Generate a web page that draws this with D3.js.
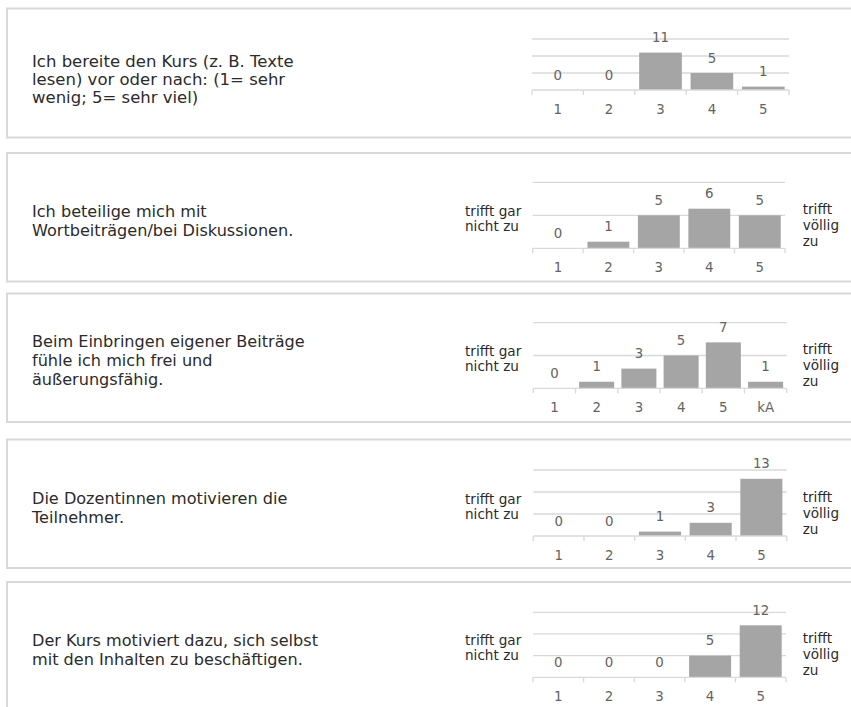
<!DOCTYPE html>
<html>
<head>
<meta charset="utf-8">
<script src="https://cdn.jsdelivr.net/npm/d3@7"></script>
<style>
  html, body { margin: 0; padding: 0; background: #ffffff; }
  svg { display: block; }
</style>
</head>
<body>
<svg id="chart" width="851" height="707"></svg>
<script>
// ---------- data ----------
const questionLines = [
  ["Ich bereite den Kurs (z. B. Texte", "lesen) vor oder nach: (1= sehr", "wenig; 5= sehr viel)"],
  ["Ich beteilige mich mit", "Wortbeiträgen/bei Diskussionen."],
  ["Beim Einbringen eigener Beiträge", "fühle ich mich frei und", "äußerungsfähig."],
  ["Die Dozentinnen motivieren die", "Teilnehmer."],
  ["Der Kurs motiviert dazu, sich selbst", "mit den Inhalten zu beschäftigen."]
];
const categoriesA = ["1", "2", "3", "4", "5"];
const categoriesB = ["1", "2", "3", "4", "5", "kA"];
const values1 = [0, 0, 11, 5, 1];
const values2 = [0, 1, 5, 6, 5];
const values3 = [0, 1, 3, 5, 7, 1];
const values4 = [0, 0, 1, 3, 13];
const values5 = [0, 0, 0, 5, 12];
const axisMax = [15, 10, 10, 15, 15];
const gridStep = 5;
const leftAnchor = ["trifft gar", "nicht zu"];
const rightAnchor = ["trifft", "völlig", "zu"];
const showAnchors = [false, true, true, true, true];

const seriesList = [values1, values2, values3, values4, values5];
const categoryList = [categoriesA, categoriesA, categoriesB, categoriesA, categoriesA];

// ---------- layout ----------
const layout = [
  { top: 8.5,  bottom: 137.5, base: 90,    plotTop: 39,    x0: 532,   x1: 789,   textBase: 66.7,  lh: 18.3, fs: 16.5 },
  { top: 153,  bottom: 281.5, base: 248.3, plotTop: 182.3, x0: 532.7, x1: 785,   textBase: 216.7, lh: 19.2, fs: 16.1 },
  { top: 293.5,bottom: 422,   base: 388.3, plotTop: 322.7, x0: 533.3, x1: 786.7, textBase: 347.3, lh: 19,   fs: 16.1 },
  { top: 439.5,bottom: 568,   base: 536,   plotTop: 470,   x0: 533.3, x1: 786.7, textBase: 504,   lh: 18.7, fs: 16.1 },
  { top: 582,  bottom: 760,   base: 677.3, plotTop: 612.3, x0: 533,   x1: 786,   textBase: 646,   lh: 19,   fs: 16.1 }
];

const FONT = "'DejaVu Sans', Verdana, sans-serif";
const gridColor = "#d9d9d9";
const barColor = "#a5a5a5";
const labelColor = "#636363";
const textColor = "#2b2b2b";

const svg = d3.select("#chart");

layout.forEach((L, i) => {
  const g = svg.append("g");
  const cats = categoryList[i];
  const vals = seriesList[i];

  // panel frame
  g.append("rect")
    .attr("x", 7).attr("y", L.top)
    .attr("width", 900).attr("height", L.bottom - L.top)
    .attr("fill", "none").attr("stroke", gridColor).attr("stroke-width", 2);

  // question text
  const qt = g.append("text")
    .attr("font-family", FONT).attr("font-size", L.fs).attr("fill", textColor);
  questionLines[i].forEach((line, j) => {
    qt.append("tspan").attr("x", 32).attr("y", L.textBase + j * L.lh).text(line);
  });

  const x = d3.scaleBand().domain(cats).range([L.x0, L.x1])
    .paddingInner(0.17).paddingOuter(0.085);
  const y = d3.scaleLinear().domain([0, axisMax[i]]).range([L.base, L.plotTop]);

  // gridlines
  const gridVals = d3.range(gridStep, axisMax[i] + 0.001, gridStep);
  g.selectAll(".grid").data(gridVals).enter().append("line")
    .attr("x1", L.x0).attr("x2", L.x1)
    .attr("y1", d => y(d)).attr("y2", d => y(d))
    .attr("stroke", gridColor).attr("stroke-width", 1.3);

  // bars
  g.selectAll(".bar").data(vals).enter().append("rect")
    .attr("x", (d, k) => x(cats[k]))
    .attr("width", x.bandwidth())
    .attr("y", d => y(d))
    .attr("height", d => y(0) - y(d))
    .attr("fill", barColor);

  // axis line
  g.append("line")
    .attr("x1", L.x0).attr("x2", L.x1)
    .attr("y1", y(0)).attr("y2", y(0))
    .attr("stroke", gridColor).attr("stroke-width", 1.3);

  // boundary ticks
  const bounds = d3.range(cats.length + 1).map(k => L.x0 + k * (L.x1 - L.x0) / cats.length);
  g.selectAll(".tick").data(bounds).enter().append("line")
    .attr("x1", d => d).attr("x2", d => d)
    .attr("y1", y(0)).attr("y2", y(0) + 5)
    .attr("stroke", gridColor).attr("stroke-width", 1.3);

  // category labels via axis
  const axis = d3.axisBottom(x).tickSize(0).tickPadding(0);
  const ax = g.append("g").attr("transform", `translate(0,${y(0)})`).call(axis);
  ax.select(".domain").remove();
  ax.selectAll("text")
    .attr("y", 23.5).attr("dy", null)
    .attr("font-family", FONT).attr("font-size", 13.33).attr("fill", labelColor);

  // data labels
  g.selectAll(".dl").data(vals).enter().append("text")
    .attr("x", (d, k) => x(cats[k]) + x.bandwidth() / 2)
    .attr("y", d => y(d) - 10.5)
    .attr("text-anchor", "middle")
    .attr("font-family", FONT).attr("font-size", 13.33).attr("fill", labelColor)
    .text(d => d);

  // anchors
  if (showAnchors[i]) {
    const lt = g.append("text").attr("font-family", FONT).attr("font-size", 13.6).attr("fill", textColor);
    const lOff = [-32.5, -17];
    leftAnchor.forEach((s, j) => lt.append("tspan").attr("x", 465).attr("y", y(0) + lOff[j]).text(s));
    const rt = g.append("text").attr("font-family", FONT).attr("font-size", 13.6).attr("fill", textColor);
    const rOff = [-34.5, -18, -2];
    rightAnchor.forEach((s, j) => rt.append("tspan").attr("x", 802.7).attr("y", y(0) + rOff[j]).text(s));
  }
});
</script>
</body>
</html>
